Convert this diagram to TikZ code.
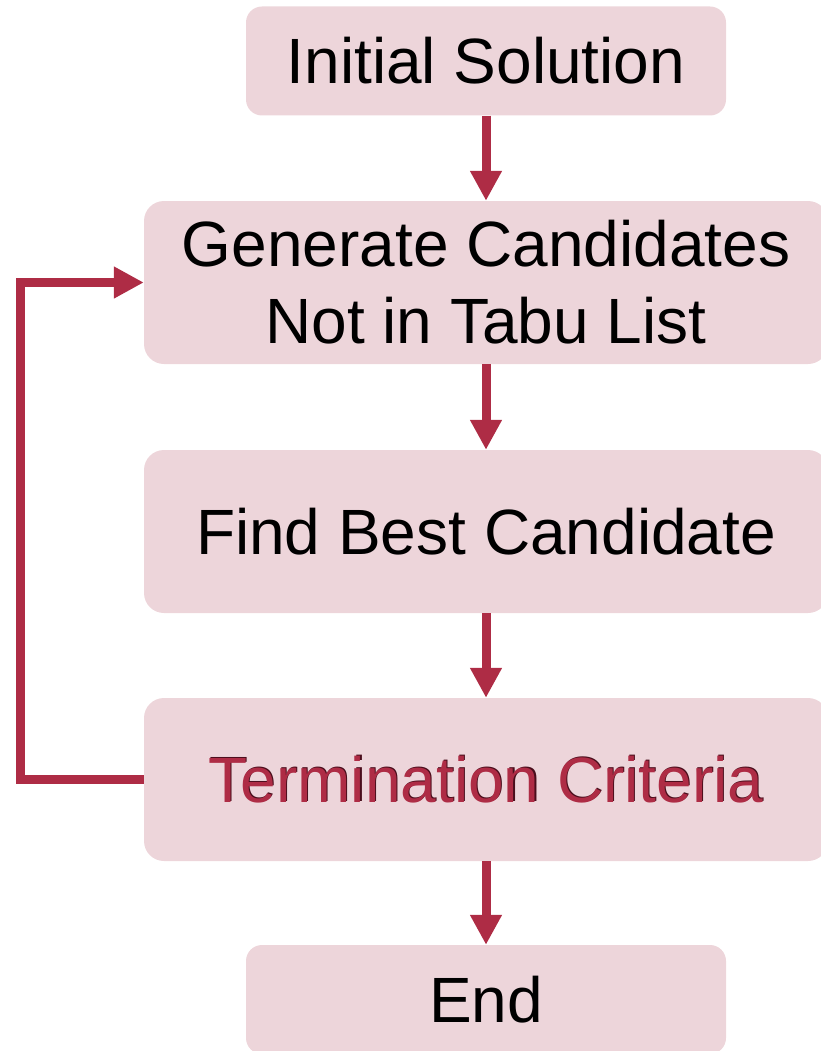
\documentclass[tikz,border=0pt]{standalone}
\usepackage{fontspec}
\setmainfont{Liberation Sans}
\usetikzlibrary{arrows.meta}
\definecolor{boxfill}{HTML}{EDD5DA}
\definecolor{crimson}{HTML}{AE2C45}
\definecolor{shade}{HTML}{4A0E1C}
\tikzset{
  box/.style={fill=boxfill, rounded corners=20pt, inner sep=0pt,
    font=\fontsize{64}{77}\selectfont, align=center},
  smallbox/.style={box, minimum width=480pt, minimum height=109pt, rounded corners=16pt},
  widebox/.style={box, minimum width=684pt, minimum height=163pt},
  arr/.style={draw=crimson, line width=9pt,
    -{Triangle[length=30pt,width=30pt]}},
  loopline/.style={arr}
}
\begin{document}
\begin{tikzpicture}[x=1pt,y=-1pt]
  \useasboundingbox (0,0) rectangle (820,1051);

  % process boxes
  \node[smallbox] (init) at (486,61) {Initial Solution};
  \node[widebox]  (gen)  at (486,282.5) {Generate Candidates\\Not in Tabu List};
  \node[widebox]  (best) at (486,531.5) {Find Best Candidate};
  \node[widebox]  (term) at (486,779.5) {};
  \node[smallbox] (end)  at (486,999.5) {End};

  % embossed label of the decision step
  \node[font=\fontsize{64}{77}\selectfont, text=shade]
    (termshade) at ([shift={(1.2pt,1.2pt)}]term.center) {Termination Criteria};
  \node[font=\fontsize{64}{77}\selectfont, text=crimson]
    (termtext) at (term.center) {Termination Criteria};

  % main flow
  \draw[arr] (init.south) -- (gen.north);
  \draw[arr] (gen.south) -- (best.north);
  \draw[arr] (best.south) -- (term.north);
  \draw[arr] (term.south) -- (end.north);

  % feedback loop
  \coordinate (bend) at (20,779.5);
  \draw[loopline] (term.west) -- (bend) |- (gen.west);
\end{tikzpicture}
\end{document}
